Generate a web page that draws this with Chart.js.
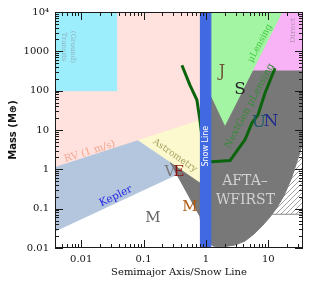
<!DOCTYPE html>
<html><head><meta charset="utf-8">
<script src="https://cdn.jsdelivr.net/npm/chart.js@4"></script>
<style>html,body{margin:0;padding:0;background:#fff}#wrap{width:325px;height:287px;position:relative}</style>
</head><body><div id="wrap"><canvas id="c"></canvas></div>
<script>
// ---- axis ticks ----
const xTickValues = [0.01, 0.1, 1, 10];
const xTickLabels = ['0.01', '0.1', '1', '10'];
const yTickValues = [0.01, 0.1, 1, 10, 100, 1000, 10000];
const yTickLabels = ['0.01', '0.1', '1', '10', '100', '1000', '10\u2074'];
const minorMultipliers = [1, 2, 3, 4, 5, 6, 7, 8, 9];
const tickDecades = [-3, -2, -1, 0, 1, 2, 3, 4];

// ---- regions (semimajor axis / snow line , mass in Earth masses) ----
const transitsX = [0.0038, 0.037, 0.037, 0.0038];
const transitsY = [100, 100, 10000, 10000];
const rvX = [0.0038, 0.081, 0.96, 0.96, 0.0038];
const rvY = [1.11, 5.34, 19.2, 10000, 10000];
const astroX = [0.081, 0.96, 0.96];
const astroY = [5.34, 19.2, 0.368];
const keplerX = [0.0038, 0.081, 0.428, 0.0038];
const keplerY = [1.11, 5.34, 0.883, 0.0269];
const lensX = [1.0, 17.2, 2.02, 1.20, 1.0];
const lensY = [10000, 10000, 12.0, 68.9, 68.9];
const directX = [5.73, 17.2, 36, 36];
const directY = [316, 10000, 10000, 316];
const hatchX = [8, 36, 36, 8];
const hatchY = [0.072, 0.072, 10, 10];
const wfirstX = [0.264, 0.96, 0.96, 1.20, 2.02, 5.73, 36, 36, 32.3, 27.8, 23.1, 17.9, 13.8, 10.6, 7.92, 5.89, 4.23, 2.92, 1.81, 1.30, 0.963, 0.80];
const wfirstY = [1.49, 0.368, 68.9, 68.9, 12.0, 316, 316, 5.66, 2.82, 1.32, 0.552, 0.218, 0.108, 0.0607, 0.036, 0.0226, 0.0150, 0.0119, 0.0106, 0.0112, 0.0169, 0.0607];
const curveX = [0.412, 0.554, 0.717, 0.80, 0.96, 1.25, 2.43, 4.23, 5.47, 6.83, 8.85, 12.8];
const curveY = [443, 138, 57.9, 18, 1.77, 1.57, 1.67, 5.66, 15.2, 24.2, 87, 372];
const snowX = [0.80, 1.20, 1.20, 0.80];
const snowY = [0.005, 0.005, 20000, 20000];

const pts = (xs, ys) => xs.map((x, i) => ({x: x, y: ys[i]}));

// hatch pattern
const pc = document.createElement('canvas');
pc.width = 5; pc.height = 5;
const pctx = pc.getContext('2d');
pctx.fillStyle = '#ffffff'; pctx.fillRect(0, 0, 5, 5);
pctx.strokeStyle = '#8a8a8a'; pctx.lineWidth = 0.8;
pctx.beginPath(); pctx.moveTo(-1, 6); pctx.lineTo(6, -1); pctx.stroke();
pctx.beginPath(); pctx.moveTo(-1, 1); pctx.lineTo(1, -1); pctx.stroke();
pctx.beginPath(); pctx.moveTo(4, 6); pctx.lineTo(6, 4); pctx.stroke();
const hatch = document.createElement('canvas').getContext('2d').createPattern(pc, 'repeat');

function poly(xs, ys, color, border) {
  return {data: pts(xs, ys), showLine: true, fill: 'shape', backgroundColor: color,
    borderColor: border || color, borderWidth: 1, pointRadius: 0, tension: 0, clip: 0};
}
const layers = [
  poly(rvX, rvY, '#FFE2DE'),
  poly(transitsX, transitsY, '#9CEEFD'),
  poly(astroX, astroY, '#FBF9CD'),
  poly(keplerX, keplerY, '#B3C6DE'),
  poly(lensX, lensY, '#A3F5A3'),
  poly(directX, directY, '#F8B2F6'),
  poly(hatchX, hatchY, hatch, '#8a8a8a'),
  poly(wfirstX, wfirstY, '#787878'),
  {data: pts(curveX, curveY), showLine: true, fill: false, borderColor: '#0B640B', borderWidth: 3,
    pointRadius: 0, tension: 0, clip: 0, borderJoinStyle: 'round'},
  poly(snowX, snowY, '#4169E1')
];
layers.forEach((d, i) => { d.order = layers.length - i; });

const SERIF = '"DejaVu Serif", serif';
const labels = [
  {t: 'Transits', x: 0.0052, y: 1300, c: '#8FB3C0', f: '7px ' + SERIF, r: 90},
  {t: '(Ground)', x: 0.0073, y: 1300, c: '#8FB3C0', f: '7px ' + SERIF, r: 90},
  {t: 'Direct', x: 24.9, y: 3390, c: '#B58FB5', f: '8px ' + SERIF, r: -90},
  {t: '\u03bcLensing', x: 7.36, y: 1592, c: '#3FCC3F', f: '9px ' + SERIF, r: -62},
  {t: 'NextGen \u03bcLensing', x: 4.99, y: 40.8, c: '#3A8A3A', f: '10px ' + SERIF, r: -62},
  {t: 'J', x: 1.81, y: 295, c: '#6E5438', f: '16px ' + SERIF, r: 0},
  {t: 'S', x: 3.51, y: 104, c: '#262626', f: '17px ' + SERIF, r: 0},
  {t: 'U', x: 7.09, y: 15.2, c: '#1C5A6A', f: '17px ' + SERIF, r: 0},
  {t: 'N', x: 11.05, y: 16.5, c: '#22308A', f: '17px ' + SERIF, r: 0},
  {t: 'AFTA\u2013', x: 4.23, y: 0.492, c: '#D2D2D2', f: '14px ' + SERIF, r: 0},
  {t: 'WFIRST', x: 4.3, y: 0.163, c: '#D2D2D2', f: '14px ' + SERIF, r: 0},
  {t: 'Snow Line', x: 1.0, y: 3.88, c: '#FFFFFF', f: '8px "DejaVu Sans", sans-serif', r: -90},
  {t: 'V', x: 0.264, y: 0.855, c: '#7A7A7A', f: '15px ' + SERIF, r: 0},
  {t: 'E', x: 0.369, y: 0.855, c: '#8B1010', f: '15px ' + SERIF, r: 0},
  {t: 'M', x: 0.554, y: 0.108, c: '#B05A10', f: '15px ' + SERIF, r: 0},
  {t: 'M', x: 0.141, y: 0.0572, c: '#666666', f: '15px ' + SERIF, r: 0},
  {t: 'Kepler', x: 0.0359, y: 0.206, c: '#2626E6', f: '10.5px ' + SERIF, r: -26},
  {t: 'RV (1 m/s)', x: 0.01374, y: 2.82, c: '#F4A58E', f: '10px ' + SERIF, r: -17.5},
  {t: 'Astrometry', x: 0.318, y: 2.23, c: '#A8A060', f: '9px ' + SERIF, r: 35}
];

const overlay = {
  id: 'overlay',
  afterDraw(chart) {
    const ctx = chart.ctx, xs = chart.scales.x, ys = chart.scales.y, a = chart.chartArea;
    ctx.save();
    ctx.beginPath(); ctx.rect(a.left, a.top, a.right - a.left, a.bottom - a.top); ctx.clip();
    labels.forEach(l => {
      ctx.save();
      ctx.translate(xs.getPixelForValue(l.x), ys.getPixelForValue(l.y));
      ctx.rotate(l.r * Math.PI / 180);
      ctx.font = l.f; ctx.fillStyle = l.c; ctx.textAlign = 'center'; ctx.textBaseline = 'middle';
      ctx.fillText(l.t, 0, 0);
      ctx.restore();
    });
    ctx.restore();
    // frame + inward ticks
    ctx.save();
    const L = Math.round(a.left), R = Math.round(a.right), T = Math.round(a.top), B = Math.round(a.bottom);
    ctx.fillStyle = '#1a1a1a';
    tickDecades.forEach(e => {
      minorMultipliers.forEach(m => {
        const v = m * Math.pow(10, e);
        const len = (m === 1) ? 8 : 4;
        const px = Math.round(xs.getPixelForValue(v));
        if (px > L + 1 && px < R - 1) {
          ctx.fillRect(px, B - len, 1, len);
          ctx.fillRect(px, T, 1, len);
        }
        const py = Math.round(ys.getPixelForValue(v));
        if (py >= T && py <= B) {
          ctx.fillRect(L, py, len, 1);
          ctx.fillRect(R - len, py, len, 1);
        }
      });
    });
    ctx.fillRect(L, T, R - L, 1);
    ctx.fillRect(L, B - 1, R - L, 1);
    ctx.fillRect(L, T, 1, B - T);
    ctx.fillRect(R - 1, T, 1, B - T);
    ctx.restore();
  }
};

new Chart(document.getElementById('c'), {
  type: 'scatter',
  data: {datasets: layers},
  options: {
    responsive: true, maintainAspectRatio: false, animation: false,
    events: [],
    layout: {padding: {top: 11, right: 22, left: 0, bottom: 0}},
    plugins: {legend: {display: false}, tooltip: {enabled: false}},
    scales: {
      x: {
        type: 'logarithmic', min: 0.0038, max: 36,
        afterBuildTicks: s => { s.ticks = xTickValues.map(v => ({value: v})); },
        afterFit: s => { s.height = 39; },
        grid: {display: false, drawTicks: false}, border: {display: false},
        ticks: {autoSkip: false, maxRotation: 0, padding: 5, color: '#111',
          font: {family: 'DejaVu Serif', size: 10},
          callback: (v, i) => xTickLabels[i]},
        title: {display: true, text: 'Semimajor Axis/Snow Line', color: '#111',
          font: {family: 'DejaVu Serif', size: 10}, padding: {top: 0, bottom: 9}}
      },
      y: {
        type: 'logarithmic', min: 0.01, max: 10000,
        afterBuildTicks: s => { s.ticks = yTickValues.map(v => ({value: v})); },
        afterFit: s => { s.width = 55; },
        grid: {display: false, drawTicks: false}, border: {display: false},
        ticks: {autoSkip: false, padding: 6, color: '#111',
          font: {family: 'DejaVu Serif', size: 10},
          callback: (v, i) => yTickLabels[i]},
        title: {display: true, text: 'Mass (M\u2295)', color: '#111',
          font: {family: 'DejaVu Sans', size: 10, weight: 'bold'}, padding: {top: 7, bottom: 0}}
      }
    }
  },
  plugins: [overlay]
});
</script></body></html>
